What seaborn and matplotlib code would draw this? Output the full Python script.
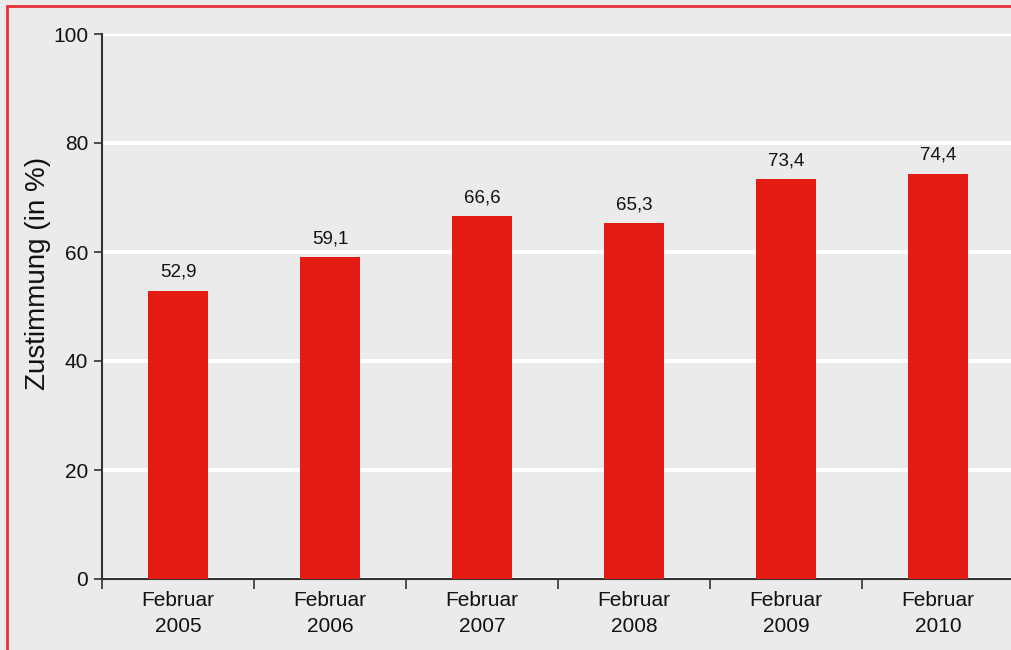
import matplotlib
matplotlib.use("Agg")
import matplotlib.pyplot as plt
import seaborn as sns
import pandas as pd
from matplotlib.lines import Line2D

categories = ["Februar\n2005", "Februar\n2006", "Februar\n2007", "Februar\n2008", "Februar\n2009", "Februar\n2010"]
values = [52.9, 59.1, 66.6, 65.3, 73.4, 74.4]
value_labels = ["52,9", "59,1", "66,6", "65,3", "73,4", "74,4"]
yticks = [0, 20, 40, 60, 80, 100]

sns.set_theme(style="white")
plt.rcParams['font.family'] = ['Liberation Sans', 'DejaVu Sans']
plt.rcParams['text.color'] = '#111111'
plt.rcParams['xtick.color'] = '#333333'
plt.rcParams['ytick.color'] = '#333333'
plt.rcParams['xtick.labelcolor'] = '#111111'
plt.rcParams['ytick.labelcolor'] = '#111111'
plt.rcParams['axes.labelcolor'] = '#111111'

bg = "#ebebeb"
red = "#e31b12"

fig = plt.figure(figsize=(10.12, 6.5), dpi=100, facecolor=bg)
ax = fig.add_axes([102/1012, 1-579/650, 912/1012, (579-34)/650])
ax.set_facecolor(bg)

df = pd.DataFrame({"cat": categories, "val": values})
sns.barplot(data=df, x="cat", y="val", color=red, width=0.4, saturation=1,
            linewidth=0, edgecolor="none", ax=ax, zorder=3)

for i, (v, lab) in enumerate(zip(values, value_labels)):
    ax.text(i, v + 1.8, lab, ha="center", va="bottom", fontsize=13.5, color="#111111", zorder=4)

ax.set_xlim(-0.5, 5.5)
ax.set_ylim(0, 100)
ax.set_yticks(yticks)
ax.set_yticklabels([str(t) for t in yticks], fontsize=15)
ax.yaxis.grid(True, color="white", linewidth=3, zorder=0)
ax.set_axisbelow(True)
ax.set_xlabel("")
ax.set_ylabel("Zustimmung (in %)", fontsize=20)
ax.yaxis.set_label_coords(-0.056, 0.56)
ax.tick_params(axis="x", which="major", bottom=False, length=0, labelsize=15, pad=9)
for t in ax.get_xticklabels():
    t.set_linespacing(1.45)
ax.set_xticks([i - 0.5 for i in range(7)], minor=True)
ax.tick_params(axis="x", which="minor", bottom=True, length=7, width=1.2, color="#333333", direction="out")
ax.tick_params(axis="y", left=True, length=6, width=1.2, color="#333333", direction="out", pad=4)
for s in ["top", "right"]:
    ax.spines[s].set_visible(False)
for s in ["left", "bottom"]:
    ax.spines[s].set_color("#333333")
    ax.spines[s].set_linewidth(1.5)

# red frame lines (top and left)
fig.add_artist(Line2D([7/1012, 1], [1-5.5/650, 1-5.5/650], transform=fig.transFigure, color="#e8303a", linewidth=2))
fig.add_artist(Line2D([7/1012, 7/1012], [0, 1-5.5/650], transform=fig.transFigure, color="#e8303a", linewidth=2))

fig.savefig("out.png", dpi=100, facecolor=bg)
